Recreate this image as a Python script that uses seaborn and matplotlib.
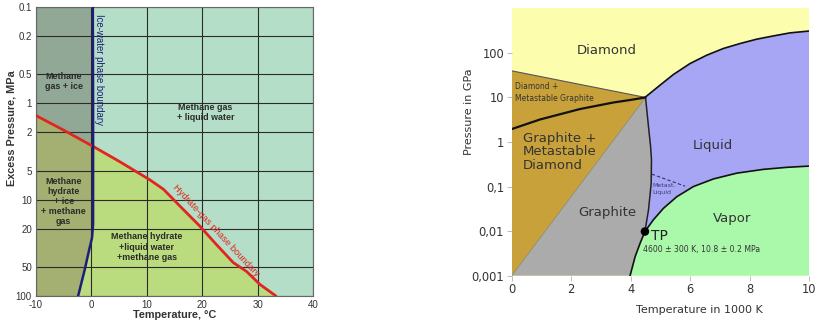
import numpy as np
import matplotlib
matplotlib.use("Agg")
import matplotlib.pyplot as plt
import seaborn as sns

# ---------------- data: methane hydrate diagram ----------------
hyd_T = [-10, -5, 0.3, 5, 10.5, 13, 16, 19.6, 22.5, 25.6, 28, 30.4, 33.3]
hyd_P = [1.34, 1.9, 2.8, 4.0, 6.2, 7.8, 11.7, 18.9, 29, 45, 55.6, 75.7, 100]
ice_T = [0.25, 0.3, 0.3, 0.3, 0.3, 0.1, -0.4, -1.2, -2.4]
ice_P = [0.1, 1, 2.8, 10, 18, 25, 33, 53, 100]
left_xticks = [-10, 0, 10, 20, 30, 40]
left_yticks = [0.1, 0.2, 0.5, 1, 2, 5, 10, 20, 50, 100]
left_yticklabels = ["0.1", "0.2", "0.5", "1", "2", "5", "10", "20", "50", "100"]

# ---------------- data: carbon phase diagram ----------------
dm_T = [0, 4.5]
dm_P = [39.5, 10]
gd_T = [0, 0.95, 2.3, 3.42, 4.0, 4.5]
gd_P = [1.95, 3.2, 5.5, 7.7, 8.8, 10]
gr_T = [0, 4.5]
gr_P = [0.001, 10]
melt_T = [4.5, 4.6, 4.67, 4.7, 4.69, 4.6, 4.48]
melt_P = [10, 2.2, 0.8, 0.4, 0.117, 0.03, 0.0098]
sub_T = [3.98, 4.15, 4.32, 4.48, 4.76, 5.1, 5.55, 6.11, 6.78, 7.57, 8.46, 9.25, 10]
sub_P = [0.001, 0.00267, 0.0054, 0.0098, 0.0178, 0.0324, 0.059, 0.1, 0.148, 0.2, 0.243,
         0.27, 0.288]
liq_T = [4.48, 4.99, 5.44, 6.0, 6.56, 7.12, 7.68, 8.24, 8.8, 9.36, 10]
liq_P = [10, 18.9, 32.8, 57.8, 88.8, 125.6, 162, 203, 240, 281, 309]
meta_T = [4.71, 5.83]
meta_P = [0.19, 0.102]
tp_T = [4.48]
tp_P = [0.0098]
right_xticks = [0, 2, 4, 6, 8, 10]
right_yticks = [0.001, 0.01, 0.1, 1, 10, 100]
right_yticklabels = ["0,001", "0,01", "0,1", "1", "10", "100"]

sns.set_theme(style="white")
plt.rcParams['font.family'] = ['Liberation Sans', 'DejaVu Sans']

fig = plt.figure(figsize=(8.15, 3.27), dpi=100)
ax1 = fig.add_axes([0.0442, 0.0948, 0.3399, 0.8838])
ax2 = fig.add_axes([0.6279, 0.1569, 0.3648, 0.8177])

LP = dict(sort=False, estimator=None, errorbar=None)

# ================= left chart =================
teal = "#B4DEC8"
dark = "#92A896"
olive = "#A3B071"
lgreen = "#BADB7E"
ax1.set_facecolor(teal)
ax1.set_yscale("log")
ax1.set_xlim(-10, 40)
ax1.set_ylim(100, 0.1)

hT = np.array(hyd_T); hP = np.array(hyd_P)
iT = np.array(ice_T); iP = np.array(ice_P)
m_left = hT <= 0.3
m_up = iP <= 2.8
m_dn = iP >= 2.8
# gas + ice
poly_x = [-10] + list(iT[m_up]) + list(hT[m_left][::-1])
poly_y = [0.1] + list(iP[m_up]) + list(hP[m_left][::-1])
ax1.fill(poly_x, poly_y, color=dark, lw=0, zorder=1)
# hydrate + ice
poly_x = list(hT[m_left]) + list(iT[m_dn]) + [-10]
poly_y = list(hP[m_left]) + list(iP[m_dn]) + [100]
ax1.fill(poly_x, poly_y, color=olive, lw=0, zorder=1)
# hydrate + liquid water
m_right = hT >= 0.3
poly_x = list(hT[m_right]) + list(iT[m_dn][::-1])
poly_y = list(hP[m_right]) + list(iP[m_dn][::-1])
ax1.fill(poly_x, poly_y, color=lgreen, lw=0, zorder=1)

ax1.set_axisbelow('line')
ax1.grid(True, color="#2b2b2b", lw=0.8, zorder=1.5)
sns.lineplot(x=hyd_T, y=hyd_P, ax=ax1, color="#E0261E", lw=2.0, zorder=3, **LP)
sns.lineplot(x=ice_T, y=ice_P, ax=ax1, color="#1E1E78", lw=1.8, zorder=3, **LP)

ax1.set_xticks(left_xticks)
ax1.set_xticklabels([str(t) for t in left_xticks], fontsize=7, color="#333333")
ax1.set_yticks(left_yticks)
ax1.set_yticklabels(left_yticklabels, fontsize=7, color="#333333")
ax1.minorticks_off()
ax1.tick_params(length=0, pad=3)
ax1.set_xlabel(""); ax1.set_ylabel("")
for s in ax1.spines.values():
    s.set_color("#666666"); s.set_linewidth(0.8)

fig.text(0.0147, 0.609, "Excess Pressure, MPa", rotation=90, ha="center", va="center",
         fontsize=7.8, fontweight="bold", color="#333333")
fig.text(0.2147, 0.037, "Temperature, °C", ha="center", va="center",
         fontsize=7.8, fontweight="bold", color="#333333")

lab = dict(ha="center", va="center", fontsize=6.4, fontweight="bold", color="#2a2a2a",
           linespacing=1.15)
ax1.text(-5, 0.6, "Methane\ngas + ice", **lab)
ax1.text(20.6, 1.25, "Methane gas\n+ liquid water", **lab)
ax1.text(-5, 10.5, "Methane\nhydrate\n+ ice\n+ methane\ngas", **lab)
ax1.text(10, 31, "Methane hydrate\n+liquid water\n+methane gas", **lab)
ax1.text(1.3, 0.45, "Ice-water phase boundary", rotation=270, ha="center", va="center",
         fontsize=6.9, color="#1E1E78")
ax1.text(22.4, 21, "Hydrate-gas phase boundary", rotation=-47, ha="center", va="center",
         fontsize=6.8, color="#E0261E")

# ================= right chart =================
yellow = "#FDFDAE"
brown = "#C9A13A"
gray = "#ABABAB"
blue = "#A6A6F4"
green = "#AAF8AA"
ax2.set_facecolor(yellow)
ax2.set_yscale("log")
ax2.set_xlim(0, 10)
ax2.set_ylim(0.001, 1000)

# brown metastable region
ax2.fill(dm_T + gr_T[::-1], dm_P + gr_P[::-1], color=brown, lw=0, zorder=1)
# graphite
ax2.fill(gr_T + melt_T[1:] + sub_T[:4][::-1][1:], gr_P + melt_P[1:] + sub_P[:4][::-1][1:],
         color=gray, lw=0, zorder=1)
# liquid
ax2.fill(liq_T + sub_T[3:][::-1] + melt_T[::-1][1:], liq_P + sub_P[3:][::-1] + melt_P[::-1][1:],
         color=blue, lw=0, zorder=1)
# vapor
ax2.fill(sub_T + [10], sub_P + [0.001], color=green, lw=0, zorder=1)

sns.lineplot(x=dm_T, y=dm_P, ax=ax2, color="#555555", lw=0.8, zorder=3, **LP)
sns.lineplot(x=gr_T, y=gr_P, ax=ax2, color="#8a8a6a", lw=0.6, zorder=3, **LP)
sns.lineplot(x=gd_T, y=gd_P, ax=ax2, color="#111111", lw=1.6, zorder=3, **LP)
sns.lineplot(x=melt_T, y=melt_P, ax=ax2, color="#222222", lw=1.1, zorder=3, **LP)
sns.lineplot(x=sub_T, y=sub_P, ax=ax2, color="#111111", lw=1.2, zorder=3, **LP)
sns.lineplot(x=liq_T, y=liq_P, ax=ax2, color="#111111", lw=1.2, zorder=3, **LP)
sns.lineplot(x=meta_T, y=meta_P, ax=ax2, color="#333366", lw=0.8,
             linestyle=(0, (3, 2)), zorder=3, **LP)
sns.scatterplot(x=tp_T, y=tp_P, ax=ax2, color="black", s=38, zorder=4, edgecolor="none")

ax2.set_xticks(right_xticks)
ax2.set_xticklabels([str(t) for t in right_xticks], fontsize=8.3, color="#333333",
                    family="DejaVu Sans")
ax2.set_yticks(right_yticks)
ax2.set_yticklabels(right_yticklabels, fontsize=8.3, color="#333333", family="DejaVu Sans")
ax2.minorticks_off()
ax2.tick_params(length=3.5, width=0.7, color="#bbbbbb", pad=2, bottom=True, left=True)
ax2.set_xlabel(""); ax2.set_ylabel("")
for s in ax2.spines.values():
    s.set_visible(False)

fig.text(0.858, 0.052, "Temperature in 1000 K", ha="center", va="center",
         fontsize=8, color="#333333", family="DejaVu Sans")
fig.text(0.5755, 0.657, "Pressure in GPa", rotation=90, ha="center", va="center",
         fontsize=8, color="#333333", family="DejaVu Sans")

rl = dict(color="#333333", family="DejaVu Sans")
ax2.text(3.2, 111, "Diamond", ha="center", va="center", fontsize=9.5, **rl)
ax2.text(0.12, 12.9, "Diamond +\nMetastable Graphite", ha="left", va="center",
         fontsize=5.5, linespacing=1.5, **rl)
ax2.text(0.37, 0.6, "Graphite +\nMetastable\nDiamond", ha="left", va="center",
         fontsize=9.5, linespacing=1.05, **rl)
ax2.text(6.78, 0.85, "Liquid", ha="center", va="center", fontsize=9.5, **rl)
ax2.text(3.23, 0.026, "Graphite", ha="center", va="center", fontsize=9.5, **rl)
ax2.text(7.42, 0.0195, "Vapor", ha="center", va="center", fontsize=9.5, **rl)
ax2.text(4.74, 0.087, "Metast.\nLiquid", ha="left", va="center", fontsize=4.5,
         color="#3a3a7a", family="DejaVu Sans", linespacing=1.5)
ax2.text(4.68, 0.0079, "TP", ha="left", va="center", fontsize=10, color="#222222",
         family="DejaVu Sans")
ax2.text(4.40, 0.0038, "4600 ± 300 K, 10.8 ± 0.2 MPa", ha="left", va="center",
         fontsize=5.6, **rl)

fig.savefig("out.png", dpi=100)
